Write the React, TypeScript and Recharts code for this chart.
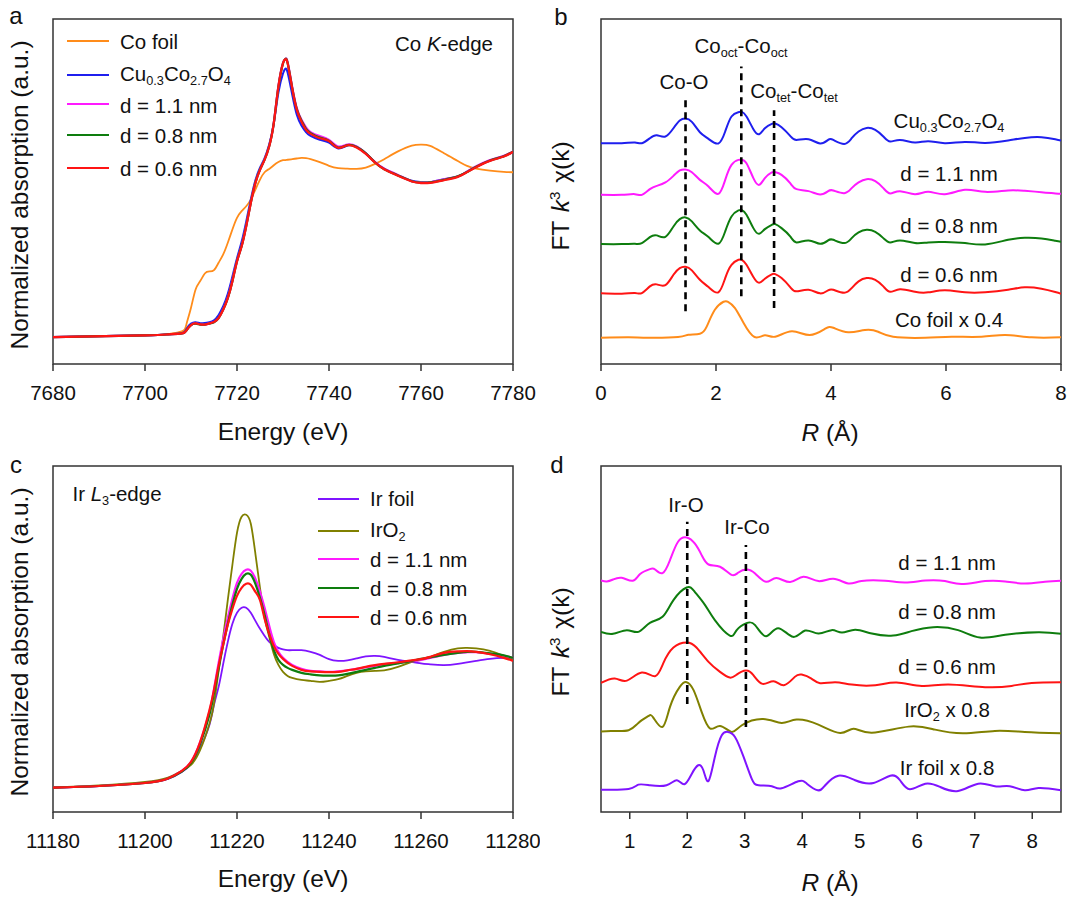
import React from 'react'
import { LineChart, Line, XAxis, YAxis, ReferenceArea, ReferenceLine } from 'recharts'

// panel a
const energyCo = [7680, 7700, 7705, 7708, 7709, 7710, 7711, 7712, 7713, 7714, 7715, 7716, 7717, 7718, 7719, 7720, 7721, 7722, 7723, 7724, 7725, 7726, 7727, 7728, 7729, 7730, 7730.5, 7731, 7732, 7733, 7734, 7735, 7736, 7738, 7740, 7742, 7744, 7746, 7748, 7750, 7752, 7755, 7758, 7760, 7762, 7765, 7768, 7770, 7772, 7775, 7778, 7780]
const aFoil = [28, 29.8, 31.1, 33.9, 41.2, 58.5, 77.5, 86.2, 94.1, 96.2, 97.6, 105.2, 113.9, 126, 139.8, 151.9, 158.8, 164, 170.9, 181.3, 191.7, 199.3, 202.8, 206.6, 210, 211.8, 212, 212.3, 212.9, 213.6, 214.3, 214, 213, 209.9, 206, 203.5, 203, 202.8, 204.1, 208, 212.9, 221, 227, 228.1, 226.7, 219, 211, 205.9, 203.1, 201, 199.6, 199.3]
const aSpinel = [28, 29.8, 30.8, 32, 36.5, 42, 43.5, 42.5, 42.5, 43.5, 45.5, 51, 60, 73, 91, 110, 127, 148, 171, 191, 204, 214, 228, 250, 282, 302, 307, 303, 280, 259, 248, 241, 237, 233, 230, 224, 227, 226, 219, 210, 203, 196, 190.5, 189, 189, 192, 195, 200, 205, 211.5, 216, 220.5]
const a11 = [28, 29.8, 30.8, 31.8, 35, 40.5, 42.2, 41.2, 41, 42.2, 43.6, 48, 57, 69, 87, 107, 123, 144, 168, 189, 202, 213, 227, 251, 289, 313, 317, 314, 288, 266, 254, 246, 241, 237, 233, 226, 228, 226, 219, 210, 203, 196.5, 190, 189, 189, 192, 195, 200, 205.5, 212, 216.5, 221]
const a08 = [28, 29.8, 30.8, 31.8, 35, 40.5, 42, 41, 41, 42, 43.5, 47.8, 56.5, 68.5, 86, 106.8, 122.5, 143.5, 167.5, 188.5, 202, 212.5, 226.5, 250.5, 288, 312.5, 317, 313, 287, 265, 253, 244.5, 240, 235.5, 232, 225, 227.5, 225.5, 219, 209.5, 202.5, 196, 190, 188.5, 188.8, 191.5, 195, 199.5, 205, 211.5, 216, 220.8]
const a06 = [28, 29.8, 30.8, 31.8, 35, 40.5, 42.2, 41.2, 41, 42.2, 43.6, 47.8, 56.4, 68.5, 85.8, 106.6, 122.2, 143, 167.2, 188, 201.8, 212.2, 226, 250.3, 288.3, 312.6, 316.7, 312.6, 286.6, 264.1, 252, 243.3, 239.2, 234.7, 231.6, 224.6, 227.4, 225, 218.4, 209.4, 202.5, 195.6, 189.7, 188, 188.3, 191, 194.5, 199.4, 204.6, 211.1, 215.6, 220.5]

// panel b
const rCo = [0, 0.36, 0.59, 0.71, 0.85, 0.97, 1.12, 1.26, 1.37, 1.47, 1.58, 1.72, 1.87, 2.04, 2.16, 2.27, 2.39, 2.45, 2.53, 2.65, 2.75, 2.85, 2.97, 3.03, 3.14, 3.29, 3.4, 3.61, 3.81, 3.95, 4.04, 4.23, 4.36, 4.48, 4.62, 4.77, 4.91, 5.03, 5.2, 5.46, 5.69, 5.98, 6.33, 6.68, 7.08, 7.37, 7.66, 7.9, 8]
const bSpinel = [221, 221, 221.7, 221, 226, 229, 227.7, 236, 243.7, 245.7, 242.3, 232, 225.3, 220.7, 232.7, 247.7, 252, 252.3, 247.7, 235, 230, 236, 240.3, 240.7, 237, 228.3, 224.3, 225, 220.7, 224.3, 224.3, 220.3, 226, 232.7, 236.3, 234.3, 227.7, 222.7, 224.3, 221.7, 223, 221, 222.3, 221.3, 223.7, 226.3, 227, 225, 223.7]
const b11 = [169.3, 169.3, 170, 169.3, 175, 178.3, 181.7, 188.3, 193.7, 194.7, 192, 184.3, 177.7, 170.3, 184.3, 199.3, 204.3, 204.3, 201, 186, 179.3, 186, 191.7, 192, 189.3, 181, 175, 173, 169.7, 173, 173.7, 171, 176, 181.7, 185, 183, 176, 170.7, 173, 170, 172.3, 170, 174.3, 172.3, 173.7, 173.3, 172, 170.7, 170.3]
const b08 = [120, 120, 120.3, 121, 127, 128.7, 127.3, 137.7, 145, 146.7, 142.7, 133.7, 127, 120.3, 132.7, 147.7, 153.7, 154, 149.3, 136, 130.3, 135, 139.3, 140, 136, 127.7, 121.7, 123.7, 120.3, 123.7, 124.3, 121, 126, 131.7, 134.3, 132.3, 126, 121.7, 123.7, 121, 121.7, 122, 121, 119.7, 124.3, 126.3, 125.7, 123.3, 122.3]
const b06 = [70.7, 70.3, 71, 71, 77.7, 79.7, 79, 89.3, 96, 97.3, 93.7, 84.3, 77, 71.7, 86, 99.3, 104.3, 104.3, 99.3, 87, 81.3, 85.3, 89.7, 90, 86, 77, 72.7, 74.3, 70.7, 73.7, 74.3, 71.3, 76, 82.7, 86, 84.3, 77.7, 72.3, 74.7, 72.3, 71.7, 73.7, 71.7, 71.7, 74.3, 76.7, 75.3, 72, 70.3]
const rCoFoil = [0, 0.48, 0.82, 1.34, 1.52, 1.72, 1.84, 1.98, 2.13, 2.21, 2.33, 2.48, 2.67, 2.85, 3.03, 3.32, 3.63, 3.9, 4.04, 4.3, 4.59, 4.82, 5.08, 5.64, 6.1, 6.62, 7.03, 7.49, 8]
const bFoil = [26.3, 26.7, 26.3, 27, 29.3, 30.3, 37.7, 54.3, 62.3, 62.3, 56, 41, 27, 28.7, 27.3, 32.7, 29, 35.3, 36.3, 31.7, 34, 32.3, 27.3, 26.3, 27.3, 27.3, 29, 26.7, 26.7]

// panel c
const energyIr = [11180, 11190, 11200, 11205, 11208, 11210, 11212, 11214, 11215, 11216, 11217, 11218, 11219, 11220, 11221, 11222, 11223, 11224, 11225, 11226, 11227, 11228, 11229, 11230, 11231, 11232, 11234, 11236, 11238, 11240, 11242, 11244, 11246, 11248, 11250, 11252, 11255, 11258, 11260, 11262, 11265, 11268, 11270, 11272, 11275, 11278, 11280]
const cFoil = [24.3, 26, 29, 33, 40, 48, 64, 87, 107, 125, 148, 170, 188, 199, 204, 204, 199, 191, 183, 176, 170, 167, 164, 162.5, 161.7, 161.7, 161.7, 160, 157, 152.7, 151, 151.5, 153.5, 155.5, 156, 155, 152, 150, 148.5, 147.5, 146.7, 148, 149.5, 151, 153, 154, 154]
const cOxide = [24.5, 26.5, 30, 34.5, 41, 47, 62, 88, 108, 141, 175, 212, 247, 279, 295, 297, 288, 258, 224, 194, 175, 158, 147, 140, 136, 134, 132, 131, 130, 131, 132.7, 136, 139, 140.5, 141, 141.5, 145, 150, 152, 155, 160, 163.5, 164, 163.5, 161, 156, 152]
const c11 = [24.3, 26, 29, 33.5, 41, 50, 70, 100, 123, 149, 173, 194, 213, 229, 238, 242, 241, 233, 220, 204, 186, 170, 160, 154, 150, 147, 143, 141, 140.5, 140, 140.6, 141.6, 143, 144.6, 146, 147.6, 149, 150.6, 152, 154, 157, 159, 159.6, 159.6, 158, 156, 154]
const c08 = [24.3, 26, 29, 33.5, 40.5, 49, 68, 97, 119, 143, 167, 188, 207, 223, 233, 238, 237, 228, 214, 197, 178, 162, 152, 147, 144, 142, 139, 137.5, 136.5, 136.3, 136.5, 138, 140, 142, 144, 146, 148.5, 151, 153, 154.5, 157, 159, 160, 160, 158.5, 156.5, 154]
const c06 = [24.3, 26, 29, 33.5, 41, 50, 70, 101.7, 122, 146, 167, 187, 203, 216, 224, 228, 227, 220, 211.7, 193, 178, 166, 158, 153, 149, 146, 142, 140.5, 140, 139.7, 140, 141.5, 143, 145, 146.7, 148, 149.6, 151.5, 152.7, 155, 159, 160.4, 160.7, 160, 157.6, 154, 151]

// panel d
const r11 = [0.5, 0.6, 0.71, 0.86, 1.05, 1.18, 1.35, 1.44, 1.57, 1.7, 1.84, 1.99, 2.13, 2.25, 2.37, 2.57, 2.77, 2.89, 3.03, 3.18, 3.37, 3.55, 3.79, 4.02, 4.28, 4.54, 4.8, 5.03, 5.44, 5.79, 6.14, 6.48, 6.77, 7.18, 7.53, 7.87, 8.22, 8.5]
const d11 = [231.3, 230.3, 232.3, 234, 231, 237.7, 242.7, 242.3, 238.7, 251.7, 270, 274.3, 268.3, 256.7, 247.3, 245, 237, 239.3, 242.3, 238.3, 230, 233.7, 229.7, 235, 230.7, 233, 228.3, 230.7, 231, 229.3, 231.3, 230.7, 227.7, 230.7, 230.3, 228.3, 230, 231]
const r08 = [0.5, 0.71, 0.95, 1.15, 1.35, 1.57, 1.76, 1.99, 2.13, 2.31, 2.48, 2.74, 2.86, 3.03, 3.18, 3.37, 3.58, 3.84, 4.05, 4.28, 4.51, 4.69, 4.92, 5.21, 5.58, 5.9, 6.28, 6.71, 7.09, 7.53, 8.11, 8.5]
const d08 = [180, 178, 181.7, 180, 189, 195, 211.7, 224.3, 220, 206.7, 191.7, 176.3, 181.7, 188.7, 186.7, 175.7, 183.7, 175, 181.3, 178.3, 181.7, 179.3, 182, 178.3, 176.3, 180.7, 184.7, 181.7, 174.3, 177, 179.7, 178]
const r06 = [0.5, 0.74, 0.95, 1.21, 1.44, 1.58, 1.76, 1.99, 2.16, 2.37, 2.57, 2.74, 2.86, 3.02, 3.15, 3.31, 3.5, 3.68, 3.87, 3.99, 4.16, 4.31, 4.57, 4.86, 5.27, 5.64, 6.08, 6.54, 7.18, 7.64, 7.99, 8.5]
const d06 = [129, 133.3, 131.3, 139.3, 135.7, 148.3, 164.3, 169.3, 164.3, 150, 140, 134.3, 137.3, 141.3, 136.7, 128, 130.7, 126.7, 135, 137.3, 133.3, 128.7, 129.7, 127.3, 126.7, 129.3, 126, 127.3, 124.7, 126, 129, 129.7]
const rOxide = [0.5, 0.69, 0.98, 1.15, 1.32, 1.41, 1.57, 1.7, 1.87, 1.99, 2.11, 2.25, 2.4, 2.57, 2.77, 2.95, 3.32, 3.64, 3.9, 4.28, 4.66, 4.89, 5.21, 5.85, 6.31, 6.8, 7.35, 7.87, 8.5]
const dOxide = [80.3, 81, 81.7, 89, 95.7, 94.3, 85, 105, 125, 129.7, 121.7, 100, 83.3, 86, 80, 86.7, 93, 89, 92.3, 87.3, 79, 83.3, 79.3, 85.3, 82.3, 78.7, 81, 80, 78.7]
const rIrFoil = [0.5, 0.98, 1.15, 1.35, 1.64, 1.82, 1.95, 2.08, 2.19, 2.28, 2.37, 2.48, 2.6, 2.71, 2.83, 2.98, 3.12, 3.24, 3.47, 3.64, 3.93, 4.08, 4.27, 4.4, 4.63, 4.92, 5.24, 5.53, 5.7, 5.87, 6.14, 6.4, 6.71, 7.06, 7.35, 7.61, 7.87, 8.11, 8.5]
const dFoil = [22.3, 23, 27.3, 26.7, 26.7, 31.7, 27.7, 38.3, 46.7, 41.7, 31, 55, 76.7, 80, 75, 55, 33.3, 26.7, 25.7, 23.7, 30.7, 28.3, 21.7, 26.7, 36.3, 31.7, 29, 36.3, 31.7, 22.7, 28.3, 25, 21, 28.3, 25.7, 25.7, 21.7, 24, 21.7]

const ORANGE = '#ff8c1a'
const BLUE = '#1f1fee'
const PINK = '#ff1aff'
const GREEN = '#0e7d0e'
const RED = '#ff1414'
const PURPLE = '#7f14ff'
const OLIVE = '#808000'
const FONT = '"Liberation Sans", Arial, sans-serif'
const INK = '#111'
const FRAME = '#333'

const rows = (xs: number[], ys: number[]) => xs.map((x, i) => ({ x, y: ys[i] }))

interface Series { name: string; color: string; width?: number; xs: number[]; ys: number[] }
interface Dash { x: number; from: number; to: number }
interface PanelProps {
  left: number; top: number; marginLeft: number; marginRight: number; marginTop: number; axisHeight: number
  xDomain: [number, number]; yMax: number; ticks: number[]; minor: number[]; series: Series[]; dashes?: Dash[]
}

function Panel(p: PanelProps) {
  return (
    <div style={{ position: 'absolute', left: p.left, top: p.top }}>
      <LineChart width={540} height={453} margin={{ left: p.marginLeft, right: p.marginRight, top: p.marginTop, bottom: 0 }}>
        {/* height 0 would stop the axis rendering, so the minor axis keeps 1px */}
        <XAxis xAxisId="minor" type="number" dataKey="x" domain={p.xDomain} ticks={p.minor} height={1} tickSize={4} interval={0} allowDataOverflow
          tick={false} axisLine={false} tickLine={{ stroke: FRAME, strokeWidth: 1.5 }} />
        <XAxis xAxisId="main" type="number" dataKey="x" domain={p.xDomain} ticks={p.ticks} height={p.axisHeight - 1} tickSize={7} tickMargin={14} interval={0} allowDataOverflow
          axisLine={false} tickLine={{ stroke: FRAME, strokeWidth: 1.5 }}
          tick={{ fontSize: 20.5, fill: INK, fontFamily: FONT }} />
        <YAxis yAxisId="v" type="number" domain={[0, p.yMax]} hide allowDataOverflow />
        <ReferenceArea xAxisId="main" yAxisId="v" x1={p.xDomain[0]} x2={p.xDomain[1]} y1={0} y2={p.yMax} fill="none" fillOpacity={0} stroke={FRAME} strokeWidth={1.5} />
        {p.series.map(s => (
          <Line key={s.name} xAxisId="main" yAxisId="v" data={rows(s.xs, s.ys)} dataKey="y" name={s.name} type="natural"
            stroke={s.color} strokeWidth={s.width ?? 2} dot={false} isAnimationActive={false} />
        ))}
        {(p.dashes ?? []).map(d => (
          <ReferenceLine key={d.x} xAxisId="main" yAxisId="v" segment={[{ x: d.x, y: d.from }, { x: d.x, y: d.to }]}
            stroke="#000" strokeWidth={2.6} strokeDasharray="7 5" />
        ))}
      </LineChart>
    </div>
  )
}

// text centred on a point
function Note({ x, y, size = 20.5, rotate = false, children }: { x: number; y: number; size?: number; rotate?: boolean; children: React.ReactNode }) {
  return (
    <div style={{
      position: 'absolute', left: x, top: y, fontFamily: FONT, fontSize: size, lineHeight: 1, color: INK, whiteSpace: 'nowrap',
      transform: `translate(-50%, -50%)${rotate ? ' rotate(-90deg)' : ''}`,
    }}>{children}</div>
  )
}

const Sub = ({ children }: { children: React.ReactNode }) => (
  <span style={{ fontSize: '0.62em', verticalAlign: '-0.3em', lineHeight: 0 }}>{children}</span>
)
const Sup = ({ children }: { children: React.ReactNode }) => (
  <span style={{ fontSize: '0.62em', verticalAlign: '0.55em', lineHeight: 0 }}>{children}</span>
)

function LegendRow({ x1, x2, lineY, textX, textY, color, width = 2, children }: { x1: number; x2: number; lineY: number; textX: number; textY: number; color: string; width?: number; children: React.ReactNode }) {
  return (
    <>
      <div style={{ position: 'absolute', left: x1, top: lineY - width / 2, width: x2 - x1, height: width, background: color }} />
      <div style={{ position: 'absolute', left: textX, top: textY, transform: 'translateY(-50%)', fontFamily: FONT, fontSize: 20.5, lineHeight: 1, color: INK, whiteSpace: 'nowrap' }}>{children}</div>
    </>
  )
}

const FtTitle = () => <span style={{ wordSpacing: 2 }}>FT <i>k</i><Sup>3</Sup> χ(k)</span>
const RTitle = () => <><i>R</i> (Å)</>

export default function App() {
  return (
    <div style={{ position: 'absolute', left: 0, top: 0, width: 1080, height: 906, background: '#fff', overflow: 'hidden' }}>
      <Panel left={0} top={0} marginLeft={53} marginRight={27} marginTop={19} axisHeight={89} xDomain={[7680, 7780]} yMax={358.6}
        ticks={[7680, 7700, 7720, 7740, 7760, 7780]} minor={[7690, 7710, 7730, 7750, 7770]}
        series={[
          { name: 'Co foil', color: ORANGE, width: 1.8, xs: energyCo, ys: aFoil },
          { name: 'Cu0.3Co2.7O4', color: BLUE, width: 2, xs: energyCo, ys: aSpinel },
          { name: 'd = 1.1 nm', color: PINK, width: 2.2, xs: energyCo, ys: a11 },
          { name: 'd = 0.8 nm', color: GREEN, width: 2.2, xs: energyCo, ys: a08 },
          { name: 'd = 0.6 nm', color: RED, width: 2.2, xs: energyCo, ys: a06 },
        ]} />
      <Panel left={540} top={0} marginLeft={61} marginRight={19} marginTop={19} axisHeight={89} xDomain={[0, 8]} yMax={345.3}
        ticks={[0, 2, 4, 6, 8]} minor={[1, 3, 5, 7]}
        series={[
          { name: 'Cu0.3Co2.7O4', color: BLUE, xs: rCo, ys: bSpinel },
          { name: 'd = 1.1 nm', color: PINK, xs: rCo, ys: b11 },
          { name: 'd = 0.8 nm', color: GREEN, xs: rCo, ys: b08 },
          { name: 'd = 0.6 nm', color: RED, xs: rCo, ys: b06 },
          { name: 'Co foil x 0.4', color: ORANGE, xs: rCoFoil, ys: bFoil },
        ]}
        dashes={[{ x: 1.47, from: 52.7, to: 266 }, { x: 2.44, from: 67.7, to: 297.7 }, { x: 3.01, from: 56, to: 254 }]} />
      <Panel left={0} top={453} marginLeft={53} marginRight={27} marginTop={13} axisHeight={94} xDomain={[11180, 11280]} yMax={345.7}
        ticks={[11180, 11200, 11220, 11240, 11260, 11280]} minor={[11190, 11210, 11230, 11250, 11270]}
        series={[
          { name: 'Ir foil', color: PURPLE, width: 1.8, xs: energyIr, ys: cFoil },
          { name: 'IrO2', color: OLIVE, width: 1.8, xs: energyIr, ys: cOxide },
          { name: 'd = 1.1 nm', color: PINK, width: 2.2, xs: energyIr, ys: c11 },
          { name: 'd = 0.8 nm', color: GREEN, width: 2.2, xs: energyIr, ys: c08 },
          { name: 'd = 0.6 nm', color: RED, width: 2.2, xs: energyIr, ys: c06 },
        ]} />
      <Panel left={540} top={453} marginLeft={61} marginRight={19} marginTop={13} axisHeight={94} xDomain={[0.5, 8.5]} yMax={345.7}
        ticks={[1, 2, 3, 4, 5, 6, 7, 8]} minor={[0.5, 1.5, 2.5, 3.5, 4.5, 5.5, 6.5, 7.5, 8.5]}
        series={[
          { name: 'd = 1.1 nm', color: PINK, xs: r11, ys: d11 },
          { name: 'd = 0.8 nm', color: GREEN, xs: r08, ys: d08 },
          { name: 'd = 0.6 nm', color: RED, xs: r06, ys: d06 },
          { name: 'IrO2 x 0.8', color: OLIVE, xs: rOxide, ys: dOxide },
          { name: 'Ir foil x 0.8', color: PURPLE, xs: rIrFoil, ys: dFoil },
        ]}
        dashes={[{ x: 2, from: 108, to: 290 }, { x: 3.02, from: 85, to: 266.7 }]} />

      <Note x={16} y={16} size={24}>a</Note>
      <Note x={561} y={17} size={24}>b</Note>
      <Note x={16} y={465} size={24}>c</Note>
      <Note x={557} y={465} size={24}>d</Note>

      <Note x={20} y={195} size={24.5} rotate>Normalized absorption (a.u.)</Note>
      <Note x={20} y={642} size={24.5} rotate>Normalized absorption (a.u.)</Note>
      <Note x={561} y={196} size={24.5} rotate><FtTitle /></Note>
      <Note x={561} y={642} size={24.5} rotate><FtTitle /></Note>
      <Note x={283} y={432} size={24.5}>Energy (eV)</Note>
      <Note x={283} y={879} size={24.5}>Energy (eV)</Note>
      <Note x={830} y={433} size={24.5}><RTitle /></Note>
      <Note x={830} y={883} size={24.5}><RTitle /></Note>

      <LegendRow x1={67} x2={109} lineY={41} textX={120} textY={42} color={ORANGE} width={1.8}>Co foil</LegendRow>
      <LegendRow x1={67} x2={109} lineY={75} textX={120} textY={74} color={BLUE}>Cu<Sub>0.3</Sub>Co<Sub>2.7</Sub>O<Sub>4</Sub></LegendRow>
      <LegendRow x1={67} x2={109} lineY={104} textX={120} textY={106} color={PINK}>d = 1.1 nm</LegendRow>
      <LegendRow x1={67} x2={109} lineY={135} textX={120} textY={136} color={GREEN}>d = 0.8 nm</LegendRow>
      <LegendRow x1={67} x2={109} lineY={168} textX={120} textY={169} color={RED}>d = 0.6 nm</LegendRow>
      <Note x={444} y={44}>Co <i>K</i>-edge</Note>

      <Note x={684} y={82}>Co-O</Note>
      <Note x={741} y={46}>Co<Sub>oct</Sub>-Co<Sub>oct</Sub></Note>
      <Note x={794} y={91}>Co<Sub>tet</Sub>-Co<Sub>tet</Sub></Note>
      <Note x={949} y={121}>Cu<Sub>0.3</Sub>Co<Sub>2.7</Sub>O<Sub>4</Sub></Note>
      <Note x={949} y={174}>d = 1.1 nm</Note>
      <Note x={949} y={226}>d = 0.8 nm</Note>
      <Note x={949} y={275}>d = 0.6 nm</Note>
      <Note x={949} y={320}>Co foil x 0.4</Note>

      <Note x={117} y={494}>Ir <i>L</i><Sub>3</Sub>-edge</Note>
      <LegendRow x1={318} x2={359} lineY={499} textX={370} textY={499} color={PURPLE} width={1.8}>Ir foil</LegendRow>
      <LegendRow x1={318} x2={359} lineY={531} textX={370} textY={530} color={OLIVE} width={1.8}>IrO<Sub>2</Sub></LegendRow>
      <LegendRow x1={318} x2={359} lineY={559} textX={370} textY={560} color={PINK}>d = 1.1 nm</LegendRow>
      <LegendRow x1={318} x2={359} lineY={588} textX={370} textY={589} color={GREEN}>d = 0.8 nm</LegendRow>
      <LegendRow x1={318} x2={359} lineY={617} textX={370} textY={618} color={RED}>d = 0.6 nm</LegendRow>

      <Note x={686} y={505}>Ir-O</Note>
      <Note x={747} y={527}>Ir-Co</Note>
      <Note x={947} y={563}>d = 1.1 nm</Note>
      <Note x={947} y={612}>d = 0.8 nm</Note>
      <Note x={947} y={667}>d = 0.6 nm</Note>
      <Note x={947} y={710}>IrO<Sub>2</Sub> x 0.8</Note>
      <Note x={947} y={768}>Ir foil x 0.8</Note>
    </div>
  )
}
